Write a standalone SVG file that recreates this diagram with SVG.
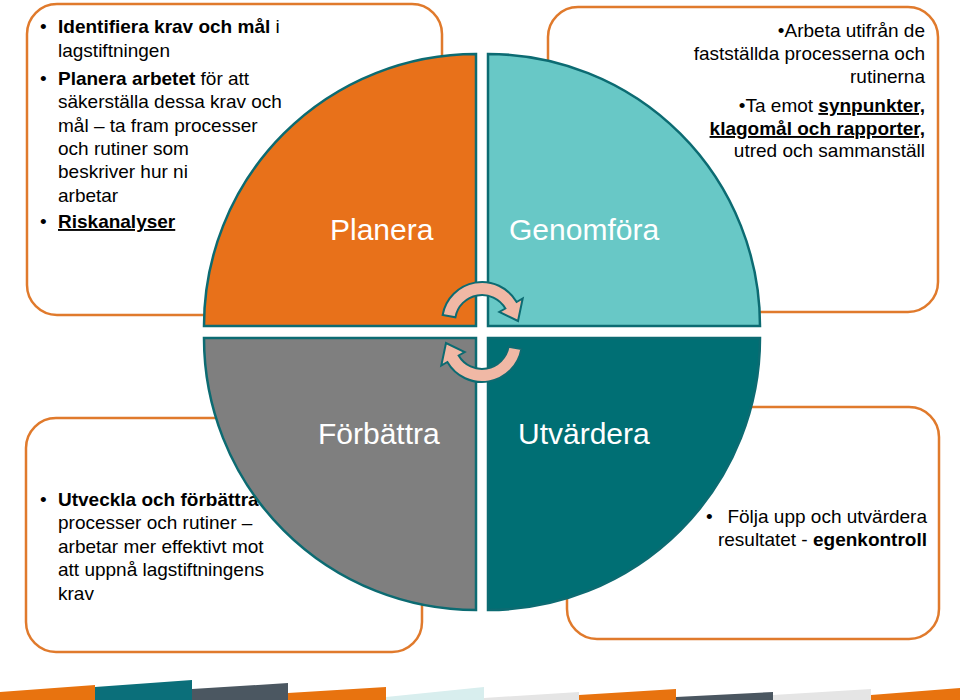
<svg xmlns="http://www.w3.org/2000/svg" width="960" height="700" viewBox="0 0 960 700">
<style>
.box{fill:#ffffff;stroke:#e07a2c;stroke-width:2.5}
.q{stroke:#0c6b72;stroke-width:2.5}
.lbl{font-family:"Liberation Sans",Arial,sans-serif;font-size:30px;fill:#ffffff}
.t{font-family:"Liberation Sans",Arial,sans-serif;font-size:19px;fill:#000000}
.b{font-weight:bold}
.u{text-decoration:underline}
.arr{fill:#f0b8a5;stroke:#0c6b72;stroke-width:2;stroke-linejoin:miter}
</style>
<rect width="960" height="700" fill="#ffffff"/>

<g id="box-planera">
<rect class="box" x="27" y="4" width="415" height="311" rx="30"/>
<text class="t"><tspan x="40" y="33">•</tspan><tspan x="58" y="33" class="b">Identifiera krav och mål</tspan><tspan> i</tspan></text>
<text class="t" x="58" y="57">lagstiftningen</text>
<text class="t"><tspan x="40" y="85">•</tspan><tspan x="58" y="85" class="b">Planera arbetet</tspan><tspan> för att</tspan></text>
<text class="t" x="58" y="108">säkerställa dessa krav och</text>
<text class="t" x="58" y="132">mål – ta fram processer</text>
<text class="t" x="58" y="155">och rutiner som</text>
<text class="t" x="58" y="178">beskriver hur ni</text>
<text class="t" x="58" y="202">arbetar</text>
<text class="t"><tspan x="40" y="228">•</tspan><tspan x="58" y="228" class="b u">Riskanalyser</tspan></text>
</g>

<g id="box-genomfora">
<rect class="box" x="548" y="7" width="390" height="305" rx="30"/>
<text class="t" text-anchor="end" x="925" y="37">•Arbeta utifrån de</text>
<text class="t" text-anchor="end" x="925" y="60">fastställda processerna och</text>
<text class="t" text-anchor="end" x="925" y="83">rutinerna</text>
<text class="t" text-anchor="end" x="925" y="112">•Ta emot <tspan class="b u">synpunkter,</tspan></text>
<text class="t b u" text-anchor="end" x="925" y="135">klagomål och rapporter,</text>
<text class="t" text-anchor="end" x="925" y="157">utred och sammanställ</text>
</g>

<g id="box-forbattra">
<rect class="box" x="26" y="418" width="396" height="234" rx="30"/>
<text class="t"><tspan x="40" y="506">•</tspan><tspan x="58" y="506" class="b">Utveckla och förbättra</tspan></text>
<text class="t" x="58" y="529">processer och rutiner –</text>
<text class="t" x="58" y="553">arbetar mer effektivt mot</text>
<text class="t" x="58" y="576">att uppnå lagstiftningens</text>
<text class="t" x="58" y="600">krav</text>
</g>

<g id="box-utvardera">
<rect class="box" x="567" y="407" width="372" height="232" rx="30"/>
<text class="t" x="706" y="523">•</text>
<text class="t" text-anchor="end" x="927" y="523">Följa upp och utvärdera</text>
<text class="t" text-anchor="end" x="927" y="546">resultatet - <tspan class="b">egenkontroll</tspan></text>
</g>

<g id="q-planera">
<path class="q" fill="#e8711a" d="M476 326 L204 326 A272 272 0 0 1 476 54 Z"/>
<text class="lbl" x="330" y="240">Planera</text>
</g>
<g id="q-genomfora">
<path class="q" fill="#68c8c6" d="M488 326 L488 54 A272 272 0 0 1 760 326 Z"/>
<text class="lbl" x="509" y="240">Genomföra</text>
</g>
<g id="q-forbattra">
<path class="q" fill="#7f7f7f" d="M476 338 L476 610 A272 272 0 0 1 204 338 Z"/>
<text class="lbl" x="318" y="444">Förbättra</text>
</g>
<g id="q-utvardera">
<path class="q" fill="#006f74" d="M488 338 L760 338 A272 272 0 0 1 488 610 Z"/>
<text class="lbl" x="518" y="444">Utvärdera</text>
</g>

<g id="connectors">
<path class="arr" d="M442.61 315.05 A40 40 0 0 1 516.64 302 L522.7 298.5 L518 321 L499.32 312 L505.38 308.5 A27 27 0 0 0 455.41 317.31 Z"/>
<path class="arr" d="M521.39 348.95 A40 40 0 0 1 447.36 362 L441.3 365.5 L446 343 L464.68 352 L458.62 355.5 A27 27 0 0 0 508.59 346.69 Z"/>
</g>

<g id="stripe">
<polygon fill="#e8730f" points="0,692 95,685 95,700 0,700"/>
<polygon fill="#0b6f7a" points="95,687 192,680 192,700 95,700"/>
<polygon fill="#4b5761" points="192,689 288,683 288,700 192,700"/>
<polygon fill="#e8730f" points="288,693 386,687 386,700 288,700"/>
<polygon fill="#d8eeee" points="386,697 484,687 484,700 386,700"/>
<polygon fill="#e5e5e5" points="484,698 579,692 579,700 484,700"/>
<polygon fill="#e8730f" points="579,695 676,689 676,700 579,700"/>
<polygon fill="#4b5761" points="676,697 773,692 773,700 676,700"/>
<polygon fill="#e5e5e5" points="773,695 871,689 871,700 773,700"/>
<polygon fill="#e8730f" points="871,695 960,688 960,700 871,700"/>
</g>
</svg>
